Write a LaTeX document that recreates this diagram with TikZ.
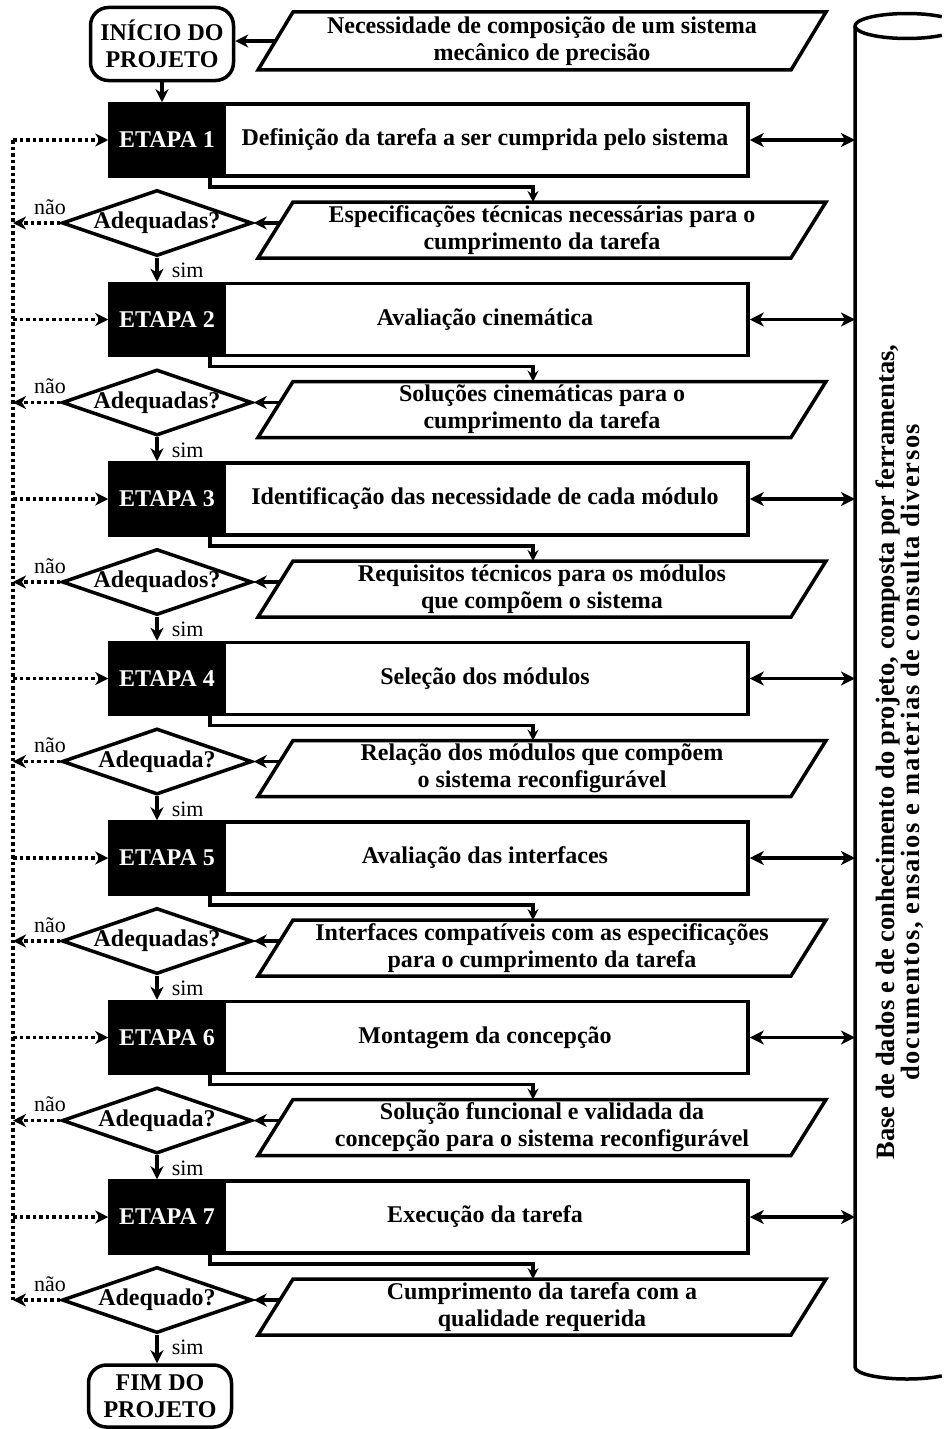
\documentclass[tikz,border=0pt]{standalone}
\usepackage{fontspec}
\setmainfont{Liberation Serif}
\usetikzlibrary{shapes.geometric,arrows.meta,calc}

% parallelogram drawn around a (borderless) text node, top edge shifted right
\newcommand{\paragram}[1]{%
  \draw ($(#1.north west)+(35,0)$) -- (#1.north east)
        -- ($(#1.south east)+(-35,0)$) -- (#1.south west) -- cycle;}

\begin{document}
\begin{tikzpicture}[x=1pt,y=-1pt,line width=3.5pt,
  bigtxt/.style={font=\fontsize{24}{27}\selectfont\bfseries,align=center},
  smalltxt/.style={font=\fontsize{22}{24}\selectfont,inner sep=1pt},
  terminal/.style={bigtxt,draw,rounded corners=18pt,minimum width=143pt,inner sep=0pt},
  stagebox/.style={bigtxt,draw,fill=black,text=white,minimum width=114pt,minimum height=72pt,inner sep=0pt},
  taskbox/.style={bigtxt,draw,minimum width=526pt,minimum height=72pt,inner sep=0pt},
  decision/.style={bigtxt,draw,diamond,aspect=2.9,minimum width=190pt,minimum height=66pt,inner sep=0pt},
  datain/.style={bigtxt,minimum width=568pt,minimum height=56pt,inner sep=0pt,outer sep=0pt},
  flow/.style={-{Stealth[length=13pt,width=13pt,inset=4pt]}},
  smallflow/.style={-{Stealth[length=11pt,width=11pt,inset=4pt]}},
  twoway/.style={{Stealth[length=14pt,width=14pt,inset=4pt]}-{Stealth[length=14pt,width=14pt,inset=4pt]}},
  railline/.style={dash pattern=on 3.5pt off 3pt}]

\useasboundingbox (0,0) rectangle (943,1429);
\fill[white] (0,0) rectangle (943,1429);

% knowledge base: only the visible part of the cylinder (left side, top and bottom rims)
\coordinate (cylL) at (855,0);
\draw (855,26) -- (855,1367) arc[start angle=180,end angle=312,x radius=52pt,y radius=12pt];
\draw (907,26) ++(48:52pt and 12.5pt) arc[start angle=48,end angle=312,x radius=52pt,y radius=12.5pt];
\node[font=\fontsize{26.5}{25}\selectfont\bfseries,align=center,rotate=90] (dbtext) at (900,752)
  {Base de dados e de conhecimento do projeto, composta por ferramentas,\\
   {\addfontfeatures{LetterSpace=6}documentos, ensaios e materias de consulta diversos}};

% start of the project and its trigger
\node[terminal,minimum height=73pt] (start) at (162,44) {INÍCIO DO\\PROJETO};
\node[datain,minimum height=58pt] (p0) at (542,41) {Necessidade de composição de um sistema\\mecânico de precisão};
\paragram{p0}
\coordinate (pin0) at ($(p0.south west)!0.5!($(p0.north west)+(35,0)$)$);
\draw[flow] (pin0) -- (pin0 -| start.east);

% the seven stages
\foreach \k/\st/\pt/\qt in {
  1/{Definição da tarefa a ser cumprida pelo sistema}/{Especificações técnicas necessárias para o\\cumprimento da tarefa}/{Adequadas?},
  2/{Avaliação cinemática}/{Soluções cinemáticas para o\\cumprimento da tarefa}/{Adequadas?},
  3/{Identificação das necessidade de cada módulo}/{Requisitos técnicos para os módulos\\que compõem o sistema}/{Adequados?},
  4/{Seleção dos módulos}/{Relação dos módulos que compõem\\o sistema reconfigurável}/{Adequada?},
  5/{Avaliação das interfaces}/{Interfaces compatíveis com as especificações\\para o cumprimento da tarefa}/{Adequadas?},
  6/{Montagem da concepção}/{Solução funcional e validada da\\concepção para o sistema reconfigurável}/{Adequada?},
  7/{Execução da tarefa}/{Cumprimento da tarefa com a\\qualidade requerida}/{Adequado?}}{
  \pgfmathsetmacro\ey{140+179.5*(\k-1)}
  \node[taskbox] (w\k) at (485,\ey) {\st};
  \node[stagebox] (s\k) at (167,\ey) {ETAPA \k};
  \node[datain] (p\k) at (542,\ey+90) {\pt};
  \paragram{p\k}
  \node[decision] (d\k) at (157,\ey+83) {\qt};
  % stage result feeds the output parallelogram
  \draw[smallflow] ($(s\k.south east)+(-16,0)$) -- ++(0,9) -| ($(p\k.north)+(-9,0)$);
  % output is checked by the decision
  \coordinate (pin\k) at ($(p\k.south west)!0.625!($(p\k.north west)+(35,0)$)$);
  \draw[flow] (pin\k) -- (pin\k -| d\k.east);
  % exchange with the knowledge base
  \draw[twoway] (w\k.east) -- (w\k.east -| cylL);
  % feedback rail
  \coordinate (ra\k) at (13,\ey);
  \coordinate (rb\k) at (13,\ey+83);
  \draw[flow,railline] (ra\k) -- (s\k.west);
  \draw[flow,railline] (d\k.west) -- (rb\k);
  \node[smalltxt] (no\k) at (50,\ey+67) {não};
}
\draw[railline] (ra1) -- (rb7);

% end of the project
\node[terminal,minimum height=62pt] (fim) at (160,1396) {FIM DO\\PROJETO};

% "sim" branches
\foreach \k in {1,...,6}{
  \pgfmathtruncatemacro\nx{\k+1}
  \draw[flow] (d\k.south) -- (d\k.south |- s\nx.north);
  \node[smalltxt,anchor=west] (yes\k) at ($(d\k.south)+(12,13)$) {sim};
}
\draw[flow] (d7.south) -- (d7.south |- fim.north);
\node[smalltxt,anchor=west] (yes7) at ($(d7.south)+(12,13)$) {sim};
\draw[flow] (start.south) -- (start.south |- s1.north);

% keep the strip beside the page edge blank between the rims
\fill[white] (929,45) rectangle (943,1362);
\end{tikzpicture}
\end{document}
